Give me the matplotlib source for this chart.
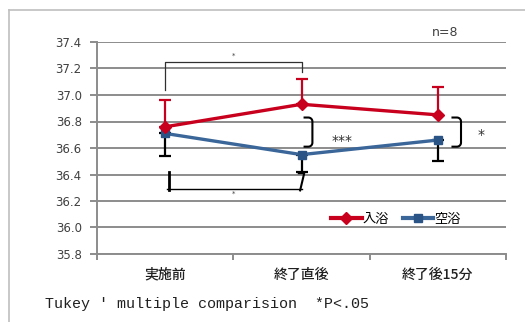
import matplotlib
matplotlib.use("Agg")
import matplotlib.pyplot as plt
from matplotlib.lines import Line2D
import numpy as np

plt.rcParams['font.family'] = ['DejaVu Sans', 'Noto Sans CJK JP']

categories = ['実施前', '終了直後', '終了後15分']
bath_mean = [36.76, 36.93, 36.85]
bath_sd = [0.20, 0.19, 0.21]
empty_mean = [36.71, 36.55, 36.66]
empty_sd = [0.17, 0.13, 0.16]
series_names = ['入浴', '空浴']
yticks = [35.8, 36.0, 36.2, 36.4, 36.6, 36.8, 37.0, 37.2, 37.4]

RED = '#C8001E'
BLUE = '#3A6699'
BLUE_M = '#2A5486'
GRID = '#8C8C8C'

fig = plt.figure(figsize=(5.25, 3.22), dpi=100)
ax = fig.add_axes([97/525, 1-254/322, 409/525, 212/322])

x = np.arange(len(categories))
z = np.zeros(len(x))

ax.errorbar(x, bath_mean, yerr=[z, bath_sd], color=RED, lw=2.4, marker='D', ms=6,
            mfc=RED, mec=RED, ecolor=RED, elinewidth=1.6, capsize=4, capthick=1.6,
            zorder=4)
ax.errorbar(x, empty_mean, yerr=[empty_sd, z], color=BLUE, lw=2.4, marker='s', ms=6,
            mfc=BLUE_M, mec=BLUE_M, ecolor='black', elinewidth=1.6, capsize=4, capthick=1.6,
            zorder=3)

ax.set_xlim(-0.5, 2.5)
ax.set_ylim(35.8, 37.4)
ax.set_yticks(yticks)
ax.set_yticklabels([f'{v:.1f}' for v in yticks], fontsize=8.5, color='#404040')
ax.set_xticks(x)
ax.set_xticklabels(categories, family=['Noto Sans CJK JP'], fontsize=10, color='#202020',
                   fontweight='medium')
ax.set_xticks([-0.5, 0.5, 1.5, 2.5], minor=True)
ax.tick_params(axis='x', which='major', length=0, pad=10)
ax.tick_params(axis='x', which='minor', length=4, color=GRID, width=1.4)
ax.tick_params(axis='y', length=5, color=GRID, width=1.4, pad=6)
ax.grid(axis='y', color=GRID, lw=1.4)
ax.set_axisbelow(True)
for s in ['top', 'right']:
    ax.spines[s].set_visible(False)
for s in ['left', 'bottom']:
    ax.spines[s].set_color(GRID)
    ax.spines[s].set_linewidth(1.4)

# significance brackets
k = 'black'
ax.plot([0, 0, 1, 1], [37.04, 37.25, 37.25, 37.17], color='#303030', lw=0.9, zorder=2)
ax.text(0.5, 37.30, '*', ha='center', va='center', fontsize=5, color='#404040')
ax.plot([0.01, 1.0], [36.29, 36.29], color=k, lw=1.0)
ax.plot([0.03, 0.03], [36.28, 36.42], color=k, lw=2.0)
ax.plot([0.98, 1.02, 0.99], [36.41, 36.41, 36.28], color=k, lw=1.5)
ax.text(0.5, 36.255, '*', ha='center', va='center', fontsize=5, color='#404040')

def curly(x0, x1, ytop, ybot):
    t = np.linspace(0, np.pi / 2, 8)
    rx, ry = 0.03, 0.03
    top_x = list(x1 - rx + rx * np.sin(t))
    top_y = list(ytop - ry + ry * np.cos(t))
    bot_x = list(x1 - rx + rx * np.cos(t))
    bot_y = list(ybot + ry - ry * np.sin(t))
    xs = [x0] + top_x + bot_x + [x0]
    ys = [ytop] + top_y + bot_y + [ybot]
    ax.plot(xs, ys, color=k, lw=1.5, solid_capstyle='butt', solid_joinstyle='round')

curly(1.015, 1.08, 36.83, 36.61)
ax.text(1.30, 36.655, '***', ha='center', va='center', fontsize=10, color='#303030')
curly(2.10, 2.17, 36.83, 36.61)
ax.text(2.32, 36.70, '*', ha='center', va='center', fontsize=10, color='#303030')

ax.text(0.851, 1.047, 'n=8', transform=ax.transAxes, ha='center', va='center',
        fontsize=9, color='#404040')

handles = [Line2D([], [], color=RED, lw=3, marker='D', ms=6, mfc=RED, mec=RED),
           Line2D([], [], color=BLUE, lw=3, marker='s', ms=6, mfc=BLUE_M, mec=BLUE_M)]
ax.legend(handles, series_names, loc='center', bbox_to_anchor=(0.731, 0.165), ncol=2,
          frameon=False, prop={'family': ['Noto Sans CJK JP'], 'size': 9.5},
          handlelength=2.3, handletextpad=0.1, columnspacing=1.0)

fig.text(45/525, 1-304/322, "Tukey ' multiple comparision  *P<.05",
         family='Liberation Mono', fontsize=10.8, ha='left', va='center', color='#202020')

fig.add_artist(Line2D([9/525, 9/525], [0, 1-10/322], transform=fig.transFigure,
                      color='#BFBFBF', lw=1.2))
fig.add_artist(Line2D([9/525, 1], [1-10/322, 1-10/322], transform=fig.transFigure,
                      color='#BFBFBF', lw=1.2))

fig.savefig('out.png', dpi=100)
